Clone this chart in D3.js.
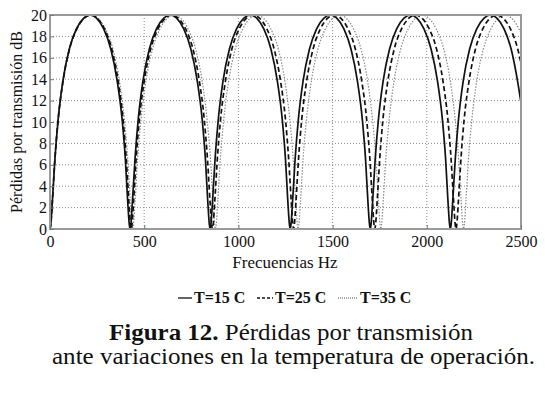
<!DOCTYPE html>
<html>
<head>
<meta charset="utf-8">
<script src="https://cdn.jsdelivr.net/npm/d3@7"></script>
<style>
  body { margin: 0; background: #fff; }
  #chart text { font-family: 'Liberation Serif', 'Times New Roman', serif; }
</style>
</head>
<body>
<svg id="chart" width="545" height="395"></svg>
<script>
// ticks
const xTicks = [0, 500, 1000, 1500, 2000, 2500]
const yTicks = [0, 2, 4, 6, 8, 10, 12, 14, 16, 18, 20]
const seriesNames = ['T=15 C', 'T=25 C', 'T=35 C']

// [frecuencia Hz, perdidas dB]
const t15 = [[0,0],[4,0.4],[13,2.7],[26,6.5],[43,10.2],[68,13.8],[102,16.8],[140,18.7],[179,19.7],[213,20],[247,19.7],[285,18.7],[323,16.8],[357,13.8],[383,10.2],[400,6.5],[412,2.7],[421,0.4],[425,0],
  [429,0.4],[438,2.7],[451,6.5],[468,10.2],[493,13.8],[527,16.8],[565,18.7],[604,19.7],[638,20],[672,19.7],[710,18.7],[748,16.8],[782,13.8],[808,10.2],[825,6.5],[837,2.7],[846,0.4],[850,0],
  [854,0.4],[863,2.7],[876,6.5],[893,10.2],[918,13.8],[952,16.8],[990,18.7],[1029,19.7],[1063,20],[1097,19.7],[1135,18.7],[1173,16.8],[1207,13.8],[1233,10.2],[1250,6.5],[1262,2.7],[1271,0.4],[1275,0],
  [1279,0.4],[1288,2.7],[1301,6.5],[1318,10.2],[1343,13.8],[1377,16.8],[1415,18.7],[1454,19.7],[1488,20],[1522,19.7],[1560,18.7],[1598,16.8],[1632,13.8],[1658,10.2],[1675,6.5],[1687,2.7],[1696,0.4],[1700,0],
  [1704,0.4],[1713,2.7],[1726,6.5],[1743,10.2],[1768,13.8],[1802,16.8],[1840,18.7],[1879,19.7],[1913,20],[1947,19.7],[1985,18.7],[2023,16.8],[2057,13.8],[2083,10.2],[2100,6.5],[2112,2.7],[2121,0.4],[2125,0],
  [2129,0.4],[2138,2.7],[2151,6.5],[2168,10.2],[2193,13.8],[2227,16.8],[2265,18.7],[2304,19.7],[2338,20],[2372,19.7],[2410,18.7],[2448,16.8],[2482,13.8],[2500,11.8]]

const t25 = [[0,0],[4,0.4],[13,2.7],[26,6.5],[43,10.2],[69,13.8],[103,16.8],[142,18.7],[181,19.7],[216,20],[250,19.7],[289,18.7],[328,16.8],[362,13.8],[388,10.2],[405,6.5],[418,2.7],[427,0.4],[431,0],
  [435,0.4],[444,2.7],[457,6.5],[474,10.2],[500,13.8],[534,16.8],[573,18.7],[612,19.7],[647,20],[681,19.7],[720,18.7],[759,16.8],[793,13.8],[819,10.2],[836,6.5],[849,2.7],[858,0.4],[862,0],
  [866,0.4],[875,2.7],[888,6.5],[905,10.2],[931,13.8],[965,16.8],[1004,18.7],[1043,19.7],[1078,20],[1112,19.7],[1151,18.7],[1190,16.8],[1224,13.8],[1250,10.2],[1267,6.5],[1280,2.7],[1289,0.4],[1293,0],
  [1297,0.4],[1306,2.7],[1319,6.5],[1336,10.2],[1362,13.8],[1396,16.8],[1435,18.7],[1474,19.7],[1509,20],[1543,19.7],[1582,18.7],[1621,16.8],[1655,13.8],[1681,10.2],[1698,6.5],[1711,2.7],[1720,0.4],[1724,0],
  [1728,0.4],[1737,2.7],[1750,6.5],[1767,10.2],[1793,13.8],[1827,16.8],[1866,18.7],[1905,19.7],[1940,20],[1974,19.7],[2013,18.7],[2052,16.8],[2086,13.8],[2112,10.2],[2129,6.5],[2142,2.7],[2151,0.4],[2155,0],
  [2159,0.4],[2168,2.7],[2181,6.5],[2198,10.2],[2224,13.8],[2258,16.8],[2297,18.7],[2336,19.7],[2371,20],[2405,19.7],[2444,18.7],[2483,16.8],[2500,15.5]]

const t35 = [[0,0],[4,0.4],[13,2.7],[26,6.5],[44,10.2],[70,13.8],[105,16.8],[145,18.7],[184,19.7],[220,20],[255,19.7],[294,18.7],[334,16.8],[369,13.8],[395,10.2],[413,6.5],[426,2.7],[435,0.4],[439,0],
  [443,0.4],[452,2.7],[465,6.5],[483,10.2],[509,13.8],[544,16.8],[584,18.7],[623,19.7],[659,20],[694,19.7],[733,18.7],[773,16.8],[808,13.8],[834,10.2],[852,6.5],[865,2.7],[874,0.4],[878,0],
  [882,0.4],[891,2.7],[904,6.5],[922,10.2],[948,13.8],[983,16.8],[1023,18.7],[1062,19.7],[1098,20],[1133,19.7],[1172,18.7],[1212,16.8],[1247,13.8],[1273,10.2],[1291,6.5],[1304,2.7],[1313,0.4],[1317,0],
  [1321,0.4],[1330,2.7],[1343,6.5],[1361,10.2],[1387,13.8],[1422,16.8],[1462,18.7],[1501,19.7],[1537,20],[1572,19.7],[1611,18.7],[1651,16.8],[1686,13.8],[1712,10.2],[1730,6.5],[1743,2.7],[1752,0.4],[1756,0],
  [1760,0.4],[1769,2.7],[1782,6.5],[1800,10.2],[1826,13.8],[1861,16.8],[1901,18.7],[1940,19.7],[1976,20],[2011,19.7],[2050,18.7],[2090,16.8],[2125,13.8],[2151,10.2],[2169,6.5],[2182,2.7],[2191,0.4],[2195,0],
  [2199,0.4],[2208,2.7],[2221,6.5],[2239,10.2],[2265,13.8],[2300,16.8],[2340,18.7],[2379,19.7],[2415,20],[2450,19.7],[2489,18.7],[2500,18.3]]

const FONT = "'Liberation Serif', 'Times New Roman', serif"
const svg = d3.select('#chart').attr('font-family', FONT)
const x = d3.scaleLinear().domain([0, 2500]).range([50, 521])
const y = d3.scaleLinear().domain([0, 20]).range([229, 15])
const gridColor = '#8c8c8c'

svg.append('defs').append('clipPath').attr('id', 'plotClip')
  .append('rect').attr('x', 50).attr('y', 14).attr('width', 471).attr('height', 216)

// grid
svg.append('g').selectAll('line.gx')
  .data(xTicks.slice(1, -1))
  .enter().append('line')
  .attr('x1', d => x(d)).attr('x2', d => x(d))
  .attr('y1', y(0)).attr('y2', y(20))
  .style('stroke', gridColor).style('stroke-dasharray', '1,2')
svg.append('g').selectAll('line.gy')
  .data(yTicks.slice(1, -1))
  .enter().append('line')
  .attr('y1', d => y(d)).attr('y2', d => y(d))
  .attr('x1', x(0)).attr('x2', x(2500))
  .style('stroke', gridColor).style('stroke-dasharray', '1,2')

// curves
const line = d3.line().x(d => x(d[0])).y(d => y(d[1])).curve(d3.curveMonotoneX)
const series = [
  { data: t35, color: '#8a8a8a', width: 1.2, dash: '1.5,1.5' },
  { data: t25, color: '#111', width: 1.7, dash: '5,3' },
  { data: t15, color: '#111', width: 1.7, dash: null }
]
svg.append('g').attr('clip-path', 'url(#plotClip)')
  .selectAll('path')
  .data(series)
  .enter().append('path')
  .attr('d', d => line(d.data))
  .style('fill', 'none')
  .style('stroke', d => d.color)
  .style('stroke-width', d => d.width)
  .style('stroke-dasharray', d => d.dash)

// frame
svg.append('rect')
  .attr('x', x(0)).attr('y', y(20))
  .attr('width', x(2500) - x(0)).attr('height', y(0) - y(20))
  .style('fill', 'none').style('stroke', '#9a9a9a').style('stroke-width', 2)

// axes
const xAxis = d3.axisBottom(x).tickValues(xTicks).tickFormat(d3.format('d')).tickSize(-4).tickPadding(7)
const gx = svg.append('g').attr('transform', `translate(0,${y(0)})`).call(xAxis)
const yAxis = d3.axisLeft(y).tickValues(yTicks).tickFormat(d3.format('d')).tickSize(-4).tickPadding(3)
const gy = svg.append('g').attr('transform', `translate(${x(0)},0)`).call(yAxis)
gx.attr('font-family', FONT).attr('font-size', 16)
gy.attr('font-family', FONT).attr('font-size', 16)
svg.selectAll('.domain').remove()
svg.selectAll('.tick line').style('stroke', '#777')
svg.selectAll('.tick text').style('font-size', '16px').style('fill', '#111')

// axis labels
svg.append('text')
  .attr('transform', 'translate(22,122) rotate(-90)')
  .attr('text-anchor', 'middle')
  .style('font-size', '16px').style('fill', '#111')
  .text('Pérdidas por transmisión dB')
svg.append('text')
  .attr('x', 285).attr('y', 268)
  .attr('text-anchor', 'middle')
  .style('font-size', '17px').style('fill', '#111')
  .text('Frecuencias Hz')

// legend
const legendX = [178, 257, 338]
const legendLen = [14, 16, 20]
const legendDash = [null, '3,2', '1,1']
const legendColor = ['#111', '#111', '#8a8a8a']
const lg = svg.append('g').attr('transform', 'translate(0,303)')
seriesNames.forEach((name, i) => {
  lg.append('line')
    .attr('x1', legendX[i]).attr('x2', legendX[i] + legendLen[i])
    .attr('y1', -5).attr('y2', -5)
    .style('stroke', legendColor[i]).style('stroke-width', 1.3)
    .style('stroke-dasharray', legendDash[i])
  lg.append('text')
    .attr('x', legendX[i] + legendLen[i] + 2)
    .style('font-size', '16px').style('font-weight', 'bold').style('fill', '#111')
    .text(name)
})

// caption
const cap1 = svg.append('text').attr('x', 109).attr('y', 340)
  .attr('textLength', 364).attr('lengthAdjust', 'spacingAndGlyphs')
  .style('font-size', '24px').style('fill', '#111')
cap1.append('tspan').style('font-weight', 'bold').text('Figura 12.')
cap1.append('tspan').text(' Pérdidas por transmisión')
svg.append('text').attr('x', 52).attr('y', 364)
  .attr('textLength', 483).attr('lengthAdjust', 'spacingAndGlyphs')
  .style('font-size', '24px').style('fill', '#111')
  .text('ante variaciones en la temperatura de operación.')
</script>
</body>
</html>
